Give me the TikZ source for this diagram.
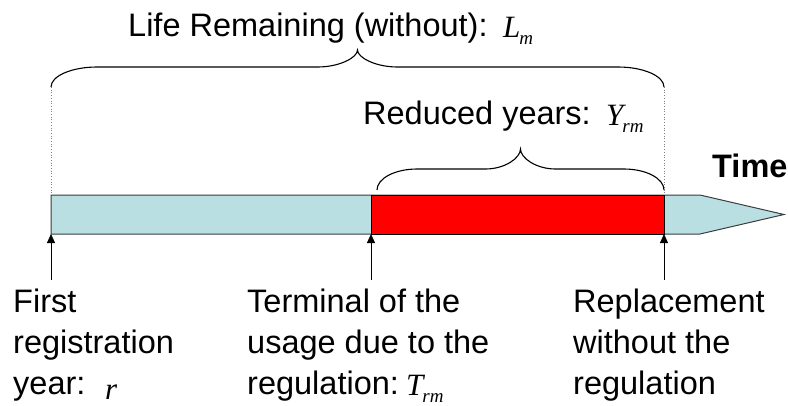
\documentclass[tikz,border=0pt]{standalone}
\usepackage{fontspec}
\setmainfont{Liberation Sans}
\newfontfamily\varfont{Liberation Serif}
\usetikzlibrary{arrows.meta}
\definecolor{barblue}{RGB}{186,223,227}
\definecolor{barred}{RGB}{255,0,0}
\definecolor{barline}{RGB}{60,60,60}
\newcommand{\subv}[1]{\kern-1pt\raisebox{-7pt}{\fontsize{19}{20}\selectfont #1}}
\begin{document}
\begin{tikzpicture}[x=1pt,y=-1pt,
  txt/.style={anchor=base west, inner sep=0pt, font=\fontsize{32.5}{41}\selectfont},
  boldtxt/.style={anchor=base west, inner sep=0pt, font=\bfseries\fontsize{32.5}{41}\selectfont},
  var/.style={anchor=base west, inner sep=0pt, font=\varfont\itshape\fontsize{31}{32}\selectfont},
  bracepath/.style={draw=black, line width=1.1pt},
  guide/.style={draw=gray, dotted, line width=0.7pt},
  marker/.style={draw=black, line width=0.8pt, -{Triangle[length=9pt,width=8pt]}},
  barshape/.style={draw=barline, line width=1pt}]
\useasboundingbox (0,0) rectangle (788,405);

% time bar
\draw[barshape, fill=barblue] (51,195) -- (700,195) -- (784,214.5) -- (700,234) -- (51,234) -- cycle;
\draw[draw=black, line width=1pt, fill=barred] (371,195) rectangle (664,234);

% named points on the bar
\coordinate (b1) at (51,234);
\coordinate (b2) at (371,234);
\coordinate (b3) at (664,234);
\coordinate (t1) at (51,195);
\coordinate (t3) at (664,195);
\coordinate (e1) at (51,87);
\coordinate (e3) at (664,87);
\coordinate (a1) at (51,280);
\coordinate (a2) at (371,280);
\coordinate (a3) at (664,280);

% dotted guides
\draw[guide] (e1) -- (t1);
\draw[guide] (e3) -- (t3);

% arrows
\draw[marker] (a1) -- (b1);
\draw[marker] (a2) -- (b2);
\draw[marker] (a3) -- (b3);

% big brace
\draw[bracepath] (51,87) .. controls (51,76) and (71.6,67) .. (97,67) -- (317.5,67)
  .. controls (339.5,67) and (357.5,57.6) .. (357.5,50)
  .. controls (357.5,57.6) and (375.5,67) .. (397.5,67) -- (618,67)
  .. controls (643.4,67) and (664,76) .. (664,87);

% small brace
\draw[bracepath] (377,190) .. controls (377,178.4) and (395,169) .. (417,169) -- (485.5,169)
  .. controls (504.8,169) and (520.5,158) .. (520.5,149)
  .. controls (520.5,158) and (536.2,169) .. (555.5,169) -- (624,169)
  .. controls (646,169) and (664,178.4) .. (664,190);

% top label
\node[txt] (life) at (128,36) {Life Remaining (without):};
\node[var] (lm) at (503,37) {L\subv{m}};

% reduced years
\node[txt] (red) at (363,124) {Reduced years:};
\node[var] (yv) at (606,125) {Y\subv{rm}};

% time
\node[boldtxt] (time) at (712,177) {Time};

% bottom labels
\node[txt] (f1) at (13,312) {First};
\node[txt] (f2) at (13,353) {registration};
\node[txt] (f3) at (13,394) {year:};
\node[var] (rv) at (105,399) {r};

\node[txt] (m1) at (247,312) {Terminal of the};
\node[txt] (m2) at (247,353) {usage due to the};
\node[txt] (m3) at (247,394) {regulation:};
\node[var] (tv) at (406,395) {T\subv{rm}};

\node[txt] (r1) at (573,312) {Replacement};
\node[txt] (r2) at (573,353) {without the};
\node[txt] (r3) at (573,394) {regulation};
\end{tikzpicture}
\end{document}
